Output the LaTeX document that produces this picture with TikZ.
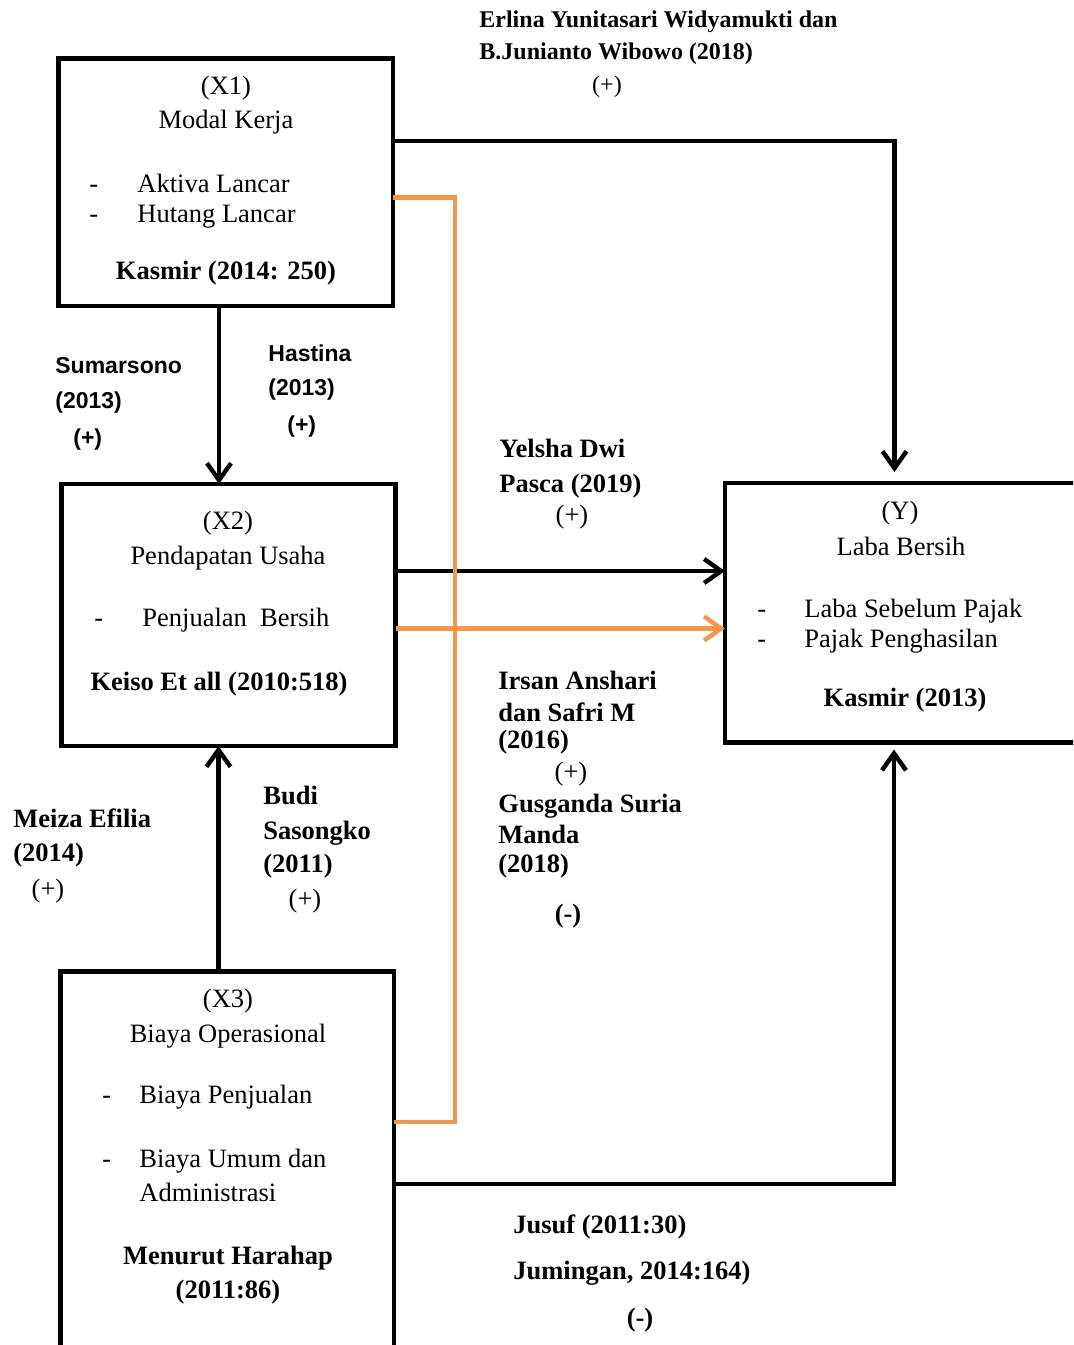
\documentclass[tikz,border=0pt]{standalone}
\usepackage{fontspec}
\setmainfont{Liberation Serif}
\newfontfamily\arialfont{Liberation Sans}
\usetikzlibrary{arrows.meta,calc}
\definecolor{orangeline}{HTML}{F79646}
\begin{document}
\begin{tikzpicture}[x=0.5pt,y=-0.5pt,
 box/.style={draw,line width=2.3pt,inner sep=0pt,outer sep=0pt},
 conn/.style={line width=2.2pt,-{Straight Barb[length=8.5pt,width=12pt]}},
 oconn/.style={conn,draw=orangeline},
 oline/.style={line width=2.2pt,draw=orangeline},
 tx/.style={inner sep=0pt,anchor=base,font=\fontsize{13.25}{16}\selectfont},
 txl/.style={tx,anchor=base west},
 txb/.style={tx,font=\fontsize{13.25}{16}\selectfont\bfseries},
 txbl/.style={txb,anchor=base west},
 toptxt/.style={inner sep=0pt,anchor=base west,font=\fontsize{12}{14}\selectfont\bfseries},
 topplus/.style={inner sep=0pt,anchor=base,font=\fontsize{12}{14}\selectfont},
 sanstxt/.style={inner sep=0pt,anchor=base west,font=\fontsize{11.5}{14}\selectfont\arialfont\bfseries},
]
\useasboundingbox (0,0) rectangle (1073,1345);
\fill[white] (0,0) rectangle (1073,1345);
\clip (0,0) rectangle (1073,1345);

% boxes
\node[box,minimum width=167.25pt,minimum height=123.75pt] (x1) at (225.75,182.25) {};
\node[box,minimum width=167pt,minimum height=131pt] (x2) at (228.5,615) {};
\node[box,minimum width=166.75pt,minimum height=214.25pt] (x3) at (227.25,1185.75) {};
\node[box,minimum width=197.5pt,minimum height=129.75pt] (yb) at (922.5,612.75) {};

% connectors
\draw[conn] ($(x1.north east)+(0,82.5)$) -| ($(yb.north west)+(169.5,-11)$);
\draw[conn] ($(x1.south)+(-6.75,0)$) -- ($(x2.north)+(-9.5,0)$);
\draw[conn] ($(x2.north east)+(0,87)$) -- ($(yb.north west)+(0,88)$);
\draw[oline] ($(x1.north east)+(0,139)$) -| ($(x3.north east)+(61,150.5)$) -- ($(x3.north east)+(0,150.5)$);
\draw[oconn] ($(x2.north east)+(0,144.5)$) -- ($(yb.north west)+(0,145.5)$);
\draw[conn] ($(x3.north)+(-8.75,0)$) -- ($(x2.south)+(-10,0)$);
\draw[conn] ($(x3.north east)+(0,212.5)$) -| ($(yb.south west)+(169,7)$);

% X1 text
\node[tx] (t1a) at (226,94) {(X1)};
\node[tx] (t1b) at (226,128) {Modal Kerja};
\node[txl] (t1c) at (89,192) {-};
\node[txl] (t1d) at (137,192) {Aktiva Lancar};
\node[txl] (t1e) at (89,222) {-};
\node[txl] (t1f) at (137,222) {Hutang Lancar};
\node[txb] (t1g) at (226,279) {Kasmir (2014: 250)};

% X2 text
\node[tx] (t2a) at (228,529) {(X2)};
\node[tx] (t2b) at (228,564) {Pendapatan Usaha};
\node[txl] (t2c) at (94,626) {-};
\node[txl] (t2d) at (142,626) {Penjualan\ \ Bersih};
\node[txb] (t2e) at (219,690) {Keiso Et all (2010:518)};

% X3 text
\node[tx] (t3a) at (228,1007) {(X3)};
\node[tx] (t3b) at (228,1042) {Biaya Operasional};
\node[txl] (t3c) at (102,1103) {-};
\node[txl] (t3d) at (139,1103) {Biaya Penjualan};
\node[txl] (t3e) at (102,1167) {-};
\node[txl] (t3f) at (139,1167) {Biaya Umum dan};
\node[txl] (t3g) at (139,1201) {Administrasi};
\node[txb] (t3h) at (228,1264) {Menurut Harahap};
\node[txb] (t3i) at (228,1298) {(2011:86)};

% Y text
\node[tx] (tya) at (900,519) {(Y)};
\node[tx] (tyb) at (901,555) {Laba Bersih};
\node[txl] (tyc) at (757,617) {-};
\node[txl] (tyd) at (804,617) {Laba Sebelum Pajak};
\node[txl] (tye) at (757,647) {-};
\node[txl] (tyf) at (804,647) {Pajak Penghasilan};
\node[txb] (tyg) at (905,706) {Kasmir (2013)};

% labels
\node[toptxt] (la1) at (479,27) {Erlina Yunitasari Widyamukti dan};
\node[toptxt] (la2) at (479,59) {B.Junianto Wibowo (2018)};
\node[topplus] (la3) at (607,92) {(+)};

\node[sanstxt] (lb1) at (55,373) {Sumarsono};
\node[sanstxt] (lb2) at (55,408) {(2013)};
\node[sanstxt] (lb3) at (73,445) {(+)};
\node[sanstxt] (lc1) at (268,361) {Hastina};
\node[sanstxt] (lc2) at (268,395) {(2013)};
\node[sanstxt] (lc3) at (287,432) {(+)};

\node[txbl] (ld1) at (499,457) {Yelsha Dwi};
\node[txbl] (ld2) at (499,492) {Pasca (2019)};
\node[tx] (ld3) at (572,523) {(+)};

\node[txbl] (le1) at (498,689) {Irsan Anshari};
\node[txbl] (le2) at (498,721) {dan Safri M};
\node[txbl] (le3) at (498,748) {(2016)};
\node[tx] (le4) at (571,780) {(+)};
\node[txbl] (le5) at (498,812) {Gusganda Suria};
\node[txbl] (le6) at (498,843) {Manda};
\node[txbl] (le7) at (498,872) {(2018)};
\node[txb] (le8) at (568,922) {(-)};

\node[txbl] (lf1) at (13,827) {Meiza Efilia};
\node[txbl] (lf2) at (13,861) {(2014)};
\node[tx] (lf3) at (48,897) {(+)};

\node[txbl] (lg1) at (263,804) {Budi};
\node[txbl] (lg2) at (263,839) {Sasongko};
\node[txbl] (lg3) at (263,872) {(2011)};
\node[tx] (lg4) at (305,907) {(+)};

\node[txbl] (lh1) at (513,1233) {Jusuf (2011:30)};
\node[txbl] (lh2) at (513,1279) {Jumingan, 2014:164)};
\node[txb] (lh3) at (640,1326) {(-)};
\end{tikzpicture}
\end{document}
